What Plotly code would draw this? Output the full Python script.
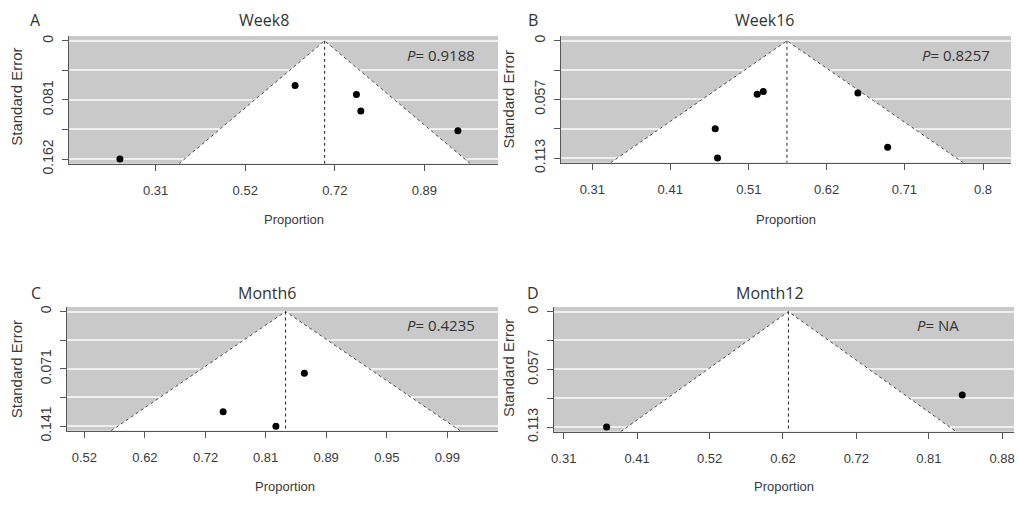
import plotly.graph_objects as go

# ---- Funnel-plot inputs (transformed proportions yi, standard errors sei) ----
week8_est = 0.993
week8_yi = [0.529, 0.926, 1.065, 1.075, 1.295]
week8_sei = [0.162, 0.0612, 0.0737, 0.0963, 0.1233]
week8_ticks = [0.610, 0.813, 1.016, 1.219]
week8_ticklabels = ["0.31", "0.52", "0.72", "0.89"]
week8_se_max = 0.162
week8_se_labels = ["0", "", "0.081", "", "0.162"]
week8_p = "0.9188"

week16_est = 0.845
week16_yi = [0.806, 0.814, 0.938, 0.751, 0.754, 0.977]
week16_sei = [0.0518, 0.0490, 0.0505, 0.0851, 0.1134, 0.1030]
week16_ticks = [0.590, 0.692, 0.795, 0.897, 0.999, 1.102]
week16_ticklabels = ["0.31", "0.41", "0.51", "0.62", "0.71", "0.8"]
week16_se_max = 0.1134
week16_se_labels = ["0", "", "0.057", "", "0.113"]
week16_p = "0.8257"

month6_est = 1.137
month6_yi = [1.168, 1.034, 1.121]
month6_sei = [0.0759, 0.1234, 0.1412]
month6_ticks = [0.805, 0.905, 1.005, 1.104, 1.204, 1.304, 1.404]
month6_ticklabels = ["0.52", "0.62", "0.72", "0.81", "0.89", "0.95", "0.99"]
month6_se_max = 0.1412
month6_se_labels = ["0", "", "0.071", "", "0.141"]
month6_p = "0.4235"

month12_est = 0.9005
month12_yi = [0.650, 1.140]
month12_sei = [0.1134, 0.0819]
month12_ticks = [0.591, 0.692, 0.792, 0.893, 0.994, 1.094, 1.195]
month12_ticklabels = ["0.31", "0.41", "0.52", "0.62", "0.72", "0.81", "0.88"]
month12_se_max = 0.1134
month12_se_labels = ["0", "", "0.057", "", "0.113"]
month12_p = "NA"

panel_letters = ["A", "B", "C", "D"]
panel_titles = ["Week8", "Week16", "Month6", "Month12"]

W, H = 1019, 507
Z = 1.96

panels = [
    dict(est=week8_est, yi=week8_yi, sei=week8_sei, ticks=week8_ticks,
         ticklabels=week8_ticklabels, se_max=week8_se_max, se_labels=week8_se_labels,
         p=week8_p, box=(66, 497, 35, 166), xr=(0.413, 1.386),
         letter=(33, 18), title=(261.7, 18), ptxt=(439.7, 54), xlab=(292.5, 223.3), ylab=(13.3, 97)),
    dict(est=week16_est, yi=week16_yi, sei=week16_sei, ticks=week16_ticks,
         ticklabels=week16_ticklabels, se_max=week16_se_max, se_labels=week16_se_labels,
         p=week16_p, box=(560, 1012, 35, 165), xr=(0.5486, 1.1387),
         letter=(531.7, 18), title=(764, 18), ptxt=(957, 54), xlab=(785.7, 223.3), ylab=(507, 100)),
    dict(est=month6_est, yi=month6_yi, sei=month6_sei, ticks=month6_ticks,
         ticklabels=month6_ticklabels, se_max=month6_se_max, se_labels=month6_se_labels,
         p=month6_p, box=(64, 497, 313, 440), xr=(0.776, 1.4875),
         letter=(33, 299), title=(265.5, 299), ptxt=(440, 331), xlab=(283.3, 497.7), ylab=(13.3, 376.7)),
    dict(est=month12_est, yi=month12_yi, sei=month12_sei, ticks=month12_ticks,
         ticklabels=month12_ticklabels, se_max=month12_se_max, se_labels=month12_se_labels,
         p=month12_p, box=(553, 1015, 313, 441), xr=(0.5773, 1.2113),
         letter=(531.7, 299), title=(770, 299), ptxt=(939, 331), xlab=(784, 497.7), ylab=(507, 375.7)),
]

BG = "#c9c9c9"
AXC = "#555555"
TXT = "#3a3a3a"
TICKFONT = "Liberation Sans, Arial, sans-serif"
TITLEFONT = "Open Sans, Noto Sans, sans-serif"

fig = go.Figure()
layout = dict(
    width=W, height=H, margin=dict(l=0, r=0, t=0, b=0),
    paper_bgcolor="white", plot_bgcolor=BG, showlegend=False,
)
annotations = []


def px(x):
    return x / W


def py(y):
    return 1 - y / H


for i, p in enumerate(panels):
    n = "" if i == 0 else str(i + 1)
    xa, ya = "x" + n, "y" + n
    x0, x1, y0, y1 = p["box"]
    se_bot = p["se_max"] * 1.04
    se_top = -p["se_max"] * 0.04
    est = p["est"]

    # white region inside the 95% pseudo-confidence funnel
    fig.add_trace(go.Scatter(
        x=[est - Z * se_bot, est, est + Z * se_bot, est - Z * se_bot],
        y=[se_bot, 0, se_bot, se_bot],
        mode="lines", fill="toself", fillcolor="white",
        line=dict(width=0), hoverinfo="skip", xaxis=xa, yaxis=ya))
    # funnel edges
    fig.add_trace(go.Scatter(
        x=[est - Z * se_bot, est, est + Z * se_bot],
        y=[se_bot, 0, se_bot],
        mode="lines", line=dict(color="#4a4a4a", width=1, dash="dot"),
        hoverinfo="skip", xaxis=xa, yaxis=ya))
    # pooled-estimate reference line
    fig.add_trace(go.Scatter(
        x=[est, est], y=[0, se_bot],
        mode="lines", line=dict(color="#222222", width=1, dash="dot"),
        hoverinfo="skip", xaxis=xa, yaxis=ya))
    # studies
    fig.add_trace(go.Scatter(
        x=p["yi"], y=p["sei"], mode="markers",
        marker=dict(color="black", size=7),
        xaxis=xa, yaxis=ya))

    se_ticks = [p["se_max"] * k / 4 for k in range(5)]
    layout["xaxis" + n] = dict(
        domain=[px(x0), px(x1)], anchor=ya, range=list(p["xr"]),
        tickvals=p["ticks"], ticktext=p["ticklabels"],
        showgrid=False, zeroline=False, showline=True, linecolor=AXC, linewidth=1,
        ticks="outside", ticklen=6, tickcolor=AXC, tickwidth=1,
        tickfont=dict(family=TICKFONT, size=13, color=TXT), ticklabelstandoff=9,
        fixedrange=True)
    layout["yaxis" + n] = dict(
        domain=[py(y1), py(y0)], anchor=xa, range=[se_bot, se_top],
        tickvals=se_ticks, ticktext=p["se_labels"], tickangle=-90,
        showgrid=True, gridcolor="#efefef", gridwidth=1.5,
        zeroline=False, showline=True, linecolor=AXC, linewidth=1,
        ticks="outside", ticklen=6, tickcolor=AXC, tickwidth=1,
        tickfont=dict(family=TICKFONT, size=14, color=TXT), ticklabelstandoff=3,
        fixedrange=True)

    annotations += [
        dict(text=panel_letters[i], x=px(p["letter"][0]), y=py(p["letter"][1]),
             font=dict(family=TITLEFONT, size=16, color="#333333")),
        dict(text=panel_titles[i], x=px(p["title"][0]), y=py(p["title"][1]),
             font=dict(family=TITLEFONT, size=16, color="#333333")),
        dict(text="<i>P</i>= " + p["p"], x=px(p["ptxt"][0]), y=py(p["ptxt"][1]),
             font=dict(family=TITLEFONT, size=15, color="#333333")),
        dict(text="Proportion", x=px(p["xlab"][0]), y=py(p["xlab"][1]),
             font=dict(family=TICKFONT, size=13, color=TXT)),
        dict(text="Standard Error", x=px(p["ylab"][0]), y=py(p["ylab"][1]), textangle=-90,
             font=dict(family=TICKFONT, size=15, color=TXT)),
    ]

for a in annotations:
    a.update(xref="paper", yref="paper", showarrow=False, xanchor="center", yanchor="middle")
layout["annotations"] = annotations
fig.update_layout(**layout)

fig.write_html("out.html")
